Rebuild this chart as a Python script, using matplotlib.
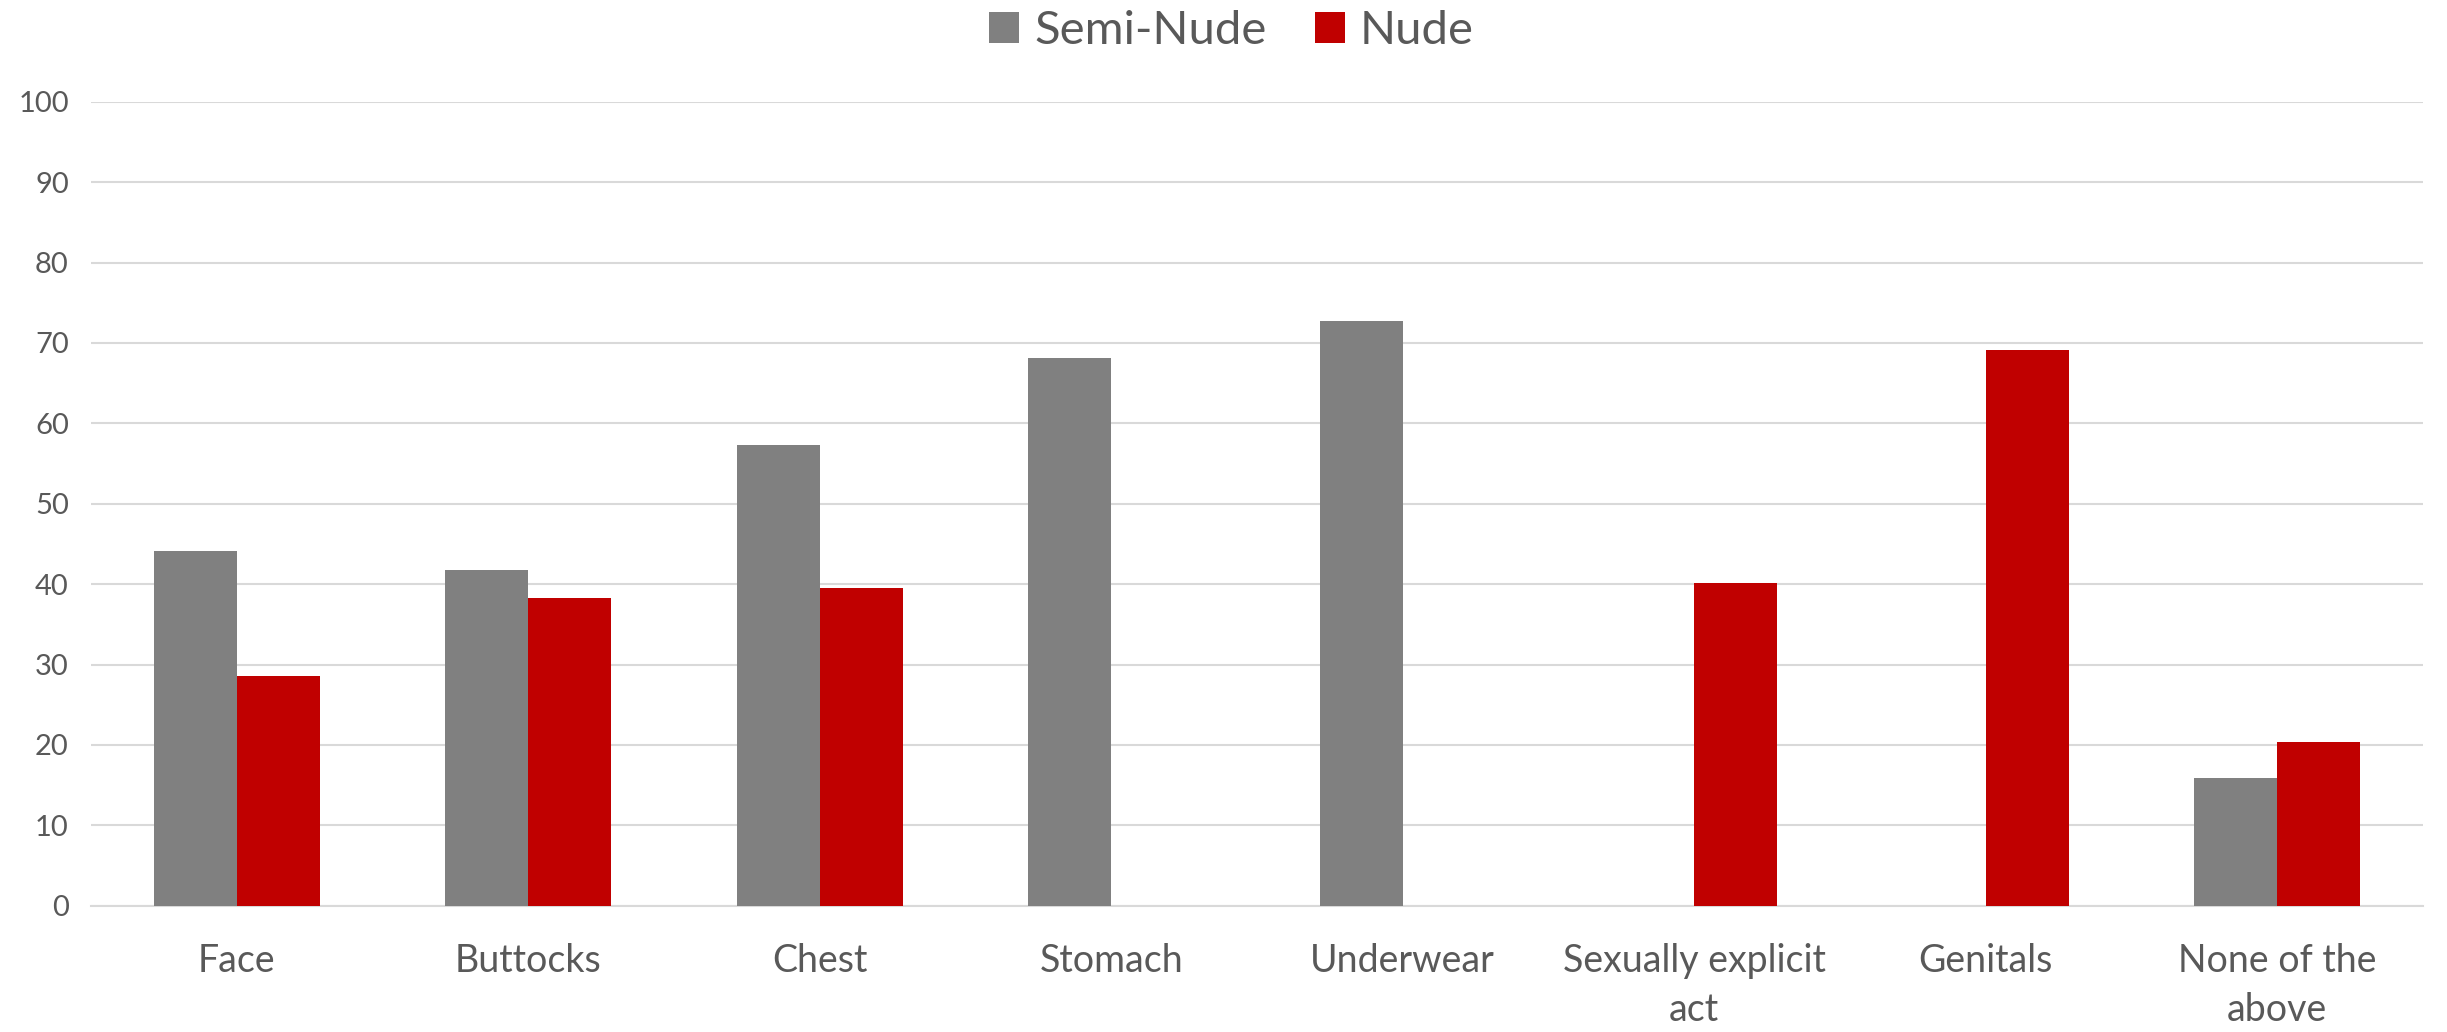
import matplotlib
matplotlib.use("Agg")
import matplotlib.pyplot as plt
import numpy as np

categories = ["Face", "Buttocks", "Chest", "Stomach", "Underwear",
              "Sexually explicit\nact", "Genitals", "None of the\nabove"]
semi_nude = [44.1, 41.8, 57.3, 68.1, 72.7, np.nan, np.nan, 15.9]
nude = [28.6, 38.3, 39.5, np.nan, np.nan, 40.2, 69.1, 20.3]
yticks = [0, 10, 20, 30, 40, 50, 60, 70, 80, 90, 100]

plt.rcParams['font.family'] = ['Lato', 'DejaVu Sans']
text_color = '#595959'

fig = plt.figure(figsize=(24.47, 10.32), dpi=100)
ax = fig.add_axes([0.0372, 0.1224, 0.953, 0.779])

x = np.arange(len(categories))
w = 0.285
ax.bar(x - w/2, semi_nude, width=w, color='#808080', label='Semi-Nude', zorder=3)
ax.bar(x + w/2, nude, width=w, color='#C00000', label='Nude', zorder=3)

ax.set_xlim(-0.5, len(categories) - 0.5)
ax.set_ylim(0, 100)
ax.set_yticks(yticks)
ax.set_xticks(x)
ax.set_xticklabels(categories, fontsize=27, color=text_color, linespacing=1.45)
ax.tick_params(axis='y', labelsize=21, colors=text_color, length=0, pad=16)
ax.tick_params(axis='x', length=0, pad=27)
for lbl in ax.get_xticklabels():
    lbl.set_verticalalignment('top')
ax.grid(axis='y', color='#D9D9D9', linewidth=1.5, zorder=0)
for s in ['top', 'right', 'left']:
    ax.spines[s].set_visible(False)
ax.spines['bottom'].set_color('#D9D9D9')
ax.spines['bottom'].set_linewidth(1.5)

leg = fig.legend(loc='center', bbox_to_anchor=(0.5033, 0.970), ncol=2,
                 frameon=False, fontsize=34, handlelength=0.64, handleheight=0.64,
                 handletextpad=0.31, columnspacing=1.03, borderpad=0.1)
for t in leg.get_texts():
    t.set_color(text_color)

fig.savefig("out.png", dpi=100)
